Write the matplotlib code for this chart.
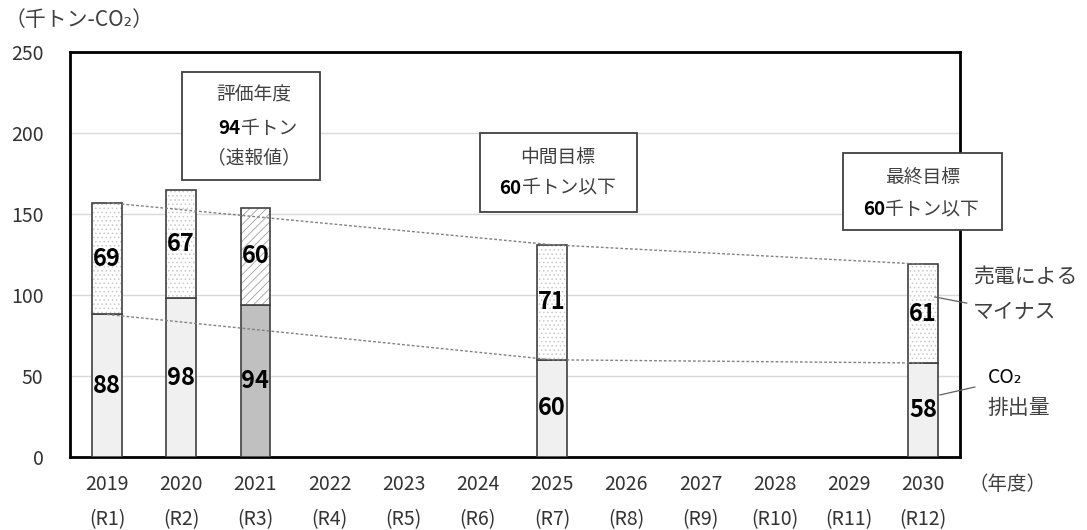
import matplotlib.pyplot as plt
import numpy as np

plt.rcParams['font.family'] = ['Noto Sans CJK JP', 'DejaVu Sans']
plt.rcParams['hatch.linewidth'] = 0.6

years = ['2019', '2020', '2021', '2022', '2023', '2024', '2025', '2026', '2027', '2028', '2029', '2030']
reiwa = ['(R1)', '(R2)', '(R3)', '(R4)', '(R5)', '(R6)', '(R7)', '(R8)', '(R9)', '(R10)', '(R11)', '(R12)']

# years that have bars
bar_idx = [0, 1, 2, 6, 11]
emission = [88, 98, 94, 60, 58]
minus = [69, 67, 60, 71, 61]

# dotted trend lines go through these bars
trend_idx = [0, 6, 11]

fig = plt.figure(figsize=(10.87, 5.3), dpi=100)
ax = fig.add_axes([70/1087, 73/530, 890/1087, 405/530])

x = np.arange(len(years))
bx = x[bar_idx]
w = 0.4
dark = '#404040'

low_col = ['#f0f0f0', '#f0f0f0', '#c0c0c0', '#f0f0f0', '#f0f0f0']
top_hatch = ['....', '....', '////', '....', '....']
hatch_col = ['#c8c8c8', '#c8c8c8', '#a0a0a0', '#c8c8c8', '#c8c8c8']

ax.bar(bx, emission, w, color=low_col, edgecolor=dark, linewidth=1.2, zorder=3)
for xi, b, m, h, hc in zip(bx, emission, minus, top_hatch, hatch_col):
    ax.bar(xi, m, w, bottom=b, color='white', edgecolor=hc, hatch=h,
           linewidth=0, zorder=3)
ax.bar(bx, minus, w, bottom=emission, fill=False, edgecolor=dark, linewidth=1.2, zorder=4)

for xi, b, m in zip(bx, emission, minus):
    ax.text(xi, b / 2, str(b), ha='center', va='center', fontsize=17,
            fontweight='bold', color='black', zorder=6)
    ax.text(xi, b + m / 2, str(m), ha='center', va='center', fontsize=17,
            fontweight='bold', color='black', zorder=6)

# trend lines
tops = [emission[i] + minus[i] for i in range(len(bar_idx))]
t_x = [x[i] for i in trend_idx]
t_low = [emission[bar_idx.index(i)] for i in trend_idx]
t_top = [tops[bar_idx.index(i)] for i in trend_idx]
ax.plot(t_x, t_top, linestyle=(0, (2, 1.5)), color='#808080', lw=1, zorder=5)
ax.plot(t_x, t_low, linestyle=(0, (2, 1.5)), color='#808080', lw=1, zorder=5)

ax.set_xlim(-0.5, 11.5)
ax.set_ylim(0, 250)
ax.set_yticks(range(0, 251, 50))
ax.set_xticks(x)
ax.set_xticklabels([f'{y}\n{r}' for y, r in zip(years, reiwa)], linespacing=1.9)
ax.tick_params(axis='both', length=0, labelsize=14, colors='#333333')
ax.tick_params(axis='y', pad=19)
ax.tick_params(axis='x', pad=12)
ax.grid(axis='y', color='#d9d9d9', lw=1, zorder=0)
ax.set_axisbelow(True)
for s in ax.spines.values():
    s.set_linewidth(2)
    s.set_color('black')

txt = '#404040'
fs = 13.5

def box(x0, x1, y0, y1):
    ax.add_patch(plt.Rectangle((x0, y0), x1 - x0, y1 - y0, facecolor='white',
                               edgecolor=dark, lw=1.3, zorder=7, clip_on=False))

box(1.01, 2.87, 171, 237.5)
ax.text(1.98, 223.5, '評価年度', ha='center', va='center', fontsize=fs, color=txt, zorder=8)
ax.text(1.80, 203, '94', ha='right', va='center', fontsize=fs, fontweight='bold', color='black', zorder=8)
ax.text(1.80, 203, '千トン', ha='left', va='center', fontsize=fs, color=txt, zorder=8)
ax.text(1.98, 184.5, '（速報値）', ha='center', va='center', fontsize=fs, color=txt, zorder=8)

box(5.03, 7.14, 151, 200)
ax.text(6.08, 185, '中間目標', ha='center', va='center', fontsize=fs, color=txt, zorder=8)
ax.text(5.59, 166, '60', ha='right', va='center', fontsize=fs, fontweight='bold', color='black', zorder=8)
ax.text(5.59, 166, '千トン以下', ha='left', va='center', fontsize=fs, color=txt, zorder=8)

box(9.92, 12.07, 140, 187.5)
ax.text(11.0, 172.5, '最終目標', ha='center', va='center', fontsize=fs, color=txt, zorder=8)
ax.text(10.49, 152.5, '60', ha='right', va='center', fontsize=fs, fontweight='bold', color='black', zorder=8)
ax.text(10.49, 152.5, '千トン以下', ha='left', va='center', fontsize=fs, color=txt, zorder=8)

# right-hand labels with leader lines
ax.text(11.67, 111, '売電による', ha='left', va='center', fontsize=15, color=txt, clip_on=False)
ax.text(11.67, 89.5, 'マイナス', ha='left', va='center', fontsize=15, color=txt, clip_on=False)
ax.plot([11.16, 11.59], [98.8, 95], color='#606060', lw=0.9, clip_on=False, zorder=6)
ax.text(11.87, 48.8, 'CO₂', ha='left', va='center', fontsize=14, color='black', clip_on=False)
ax.text(11.87, 30, '排出量', ha='left', va='center', fontsize=15, color=txt, clip_on=False)
ax.plot([11.23, 11.70], [38.3, 43.2], color='#606060', lw=0.9, clip_on=False, zorder=6)

fig.text(5/1087, 1 - 20/530, '（千トン-CO₂）', ha='left', va='center', fontsize=15, color=txt)
fig.text(968/1087, 1 - 485/530, '（年度）', ha='left', va='center', fontsize=14, color=txt)

fig.savefig('out.png', dpi=100, facecolor='white')
